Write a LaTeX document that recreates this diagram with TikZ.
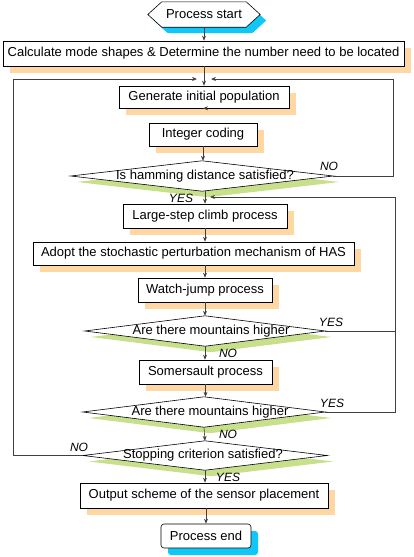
\documentclass[tikz,border=0pt]{standalone}
\usepackage{fontspec}
\setmainfont{Liberation Sans}
\usetikzlibrary{arrows.meta,shadows}
\definecolor{shorange}{HTML}{FFD7A3}
\definecolor{shcyan}{HTML}{10C8F8}
\definecolor{shgreen}{HTML}{C8E08C}
\definecolor{linegray}{HTML}{404040}
\tikzset{
  box/.style={draw=black, line width=0.6pt, fill=white, rectangle, inner sep=0pt,
    font=\fontsize{13}{15}\selectfont,
    general shadow={fill=shorange, shadow xshift=7pt, shadow yshift=-7pt}},
  endbox/.style={box, rounded corners=3pt,
    general shadow={fill=shcyan, shadow xshift=7pt, shadow yshift=-7pt}},
  holder/.style={rectangle, inner sep=0pt, font=\fontsize{13}{15}\selectfont},
  dshape/.style={draw=black, line width=0.6pt, fill=white},
  dshadow/.style={fill=shgreen},
  conn/.style={draw=linegray, line width=0.6pt},
  arr/.style={conn, -{Stealth[length=5pt,width=4pt]}},
  lbl/.style={font=\fontsize{12}{14}\selectfont\itshape, inner sep=0pt}
}
\begin{document}
\begin{tikzpicture}[x=1pt,y=-1pt]
\useasboundingbox (0,0) rectangle (413,557);
% start hexagon
\node[holder, minimum width=112pt, minimum height=25pt] (start) at (204,14.5) {};
\fill[shcyan] ([xshift=6pt,yshift=-6pt]start.west) -- ([xshift=20pt,yshift=-6pt]start.north west) -- ([xshift=-8pt,yshift=-6pt]start.north east) -- ([xshift=6pt,yshift=-6pt]start.east) -- ([xshift=-8pt,yshift=-6pt]start.south east) -- ([xshift=20pt,yshift=-6pt]start.south west) -- cycle;
\draw[dshape] (start.west) -- ([xshift=14pt]start.north west) -- ([xshift=-14pt]start.north east) -- (start.east) -- ([xshift=-14pt]start.south east) -- ([xshift=14pt]start.south west) -- cycle;
\node[holder] at (start) {Process start};

\node[box, minimum width=401pt, minimum height=25pt] (calc) at (203.5,53.5) {Calculate mode shapes \& Determine the number need to be located};
\node[box, minimum width=170pt, minimum height=22pt] (gen) at (204,97) {Generate initial population};
\node[box, minimum width=108pt, minimum height=23pt] (int) at (203,134.5) {Integer coding};

% diamonds
\node[holder, minimum width=262pt, minimum height=30pt] (ham) at (202,176) {};
\node[holder, minimum width=240pt, minimum height=30pt] (m1) at (205,331) {};
\node[holder, minimum width=242pt, minimum height=30pt] (m2) at (204,412) {};
\node[holder, minimum width=244pt, minimum height=29pt] (stop) at (205,455.5) {};
\foreach \d in {ham,m1,m2,stop}{
  \fill[dshadow] ([shift={(6pt,-6pt)}]\d.west) -- ([shift={(6pt,-6pt)}]\d.north) -- ([shift={(6pt,-6pt)}]\d.east) -- ([shift={(6pt,-6pt)}]\d.south) -- cycle;
  \draw[dshape] (\d.west) -- (\d.north) -- (\d.east) -- (\d.south) -- cycle;
}
\node[holder] at ([xshift=3pt]ham) {Is hamming distance satisfied?};
\node[holder] at ([xshift=6pt]m1) {Are there mountains higher};
\node[holder] at ([xshift=6pt]m2) {Are there mountains higher};
\node[holder] at ([xshift=-2pt]stop) {Stopping criterion satisfied?};

\node[box, minimum width=164pt, minimum height=24pt] (large) at (205,216) {Large-step climb process};
\node[box, minimum width=321pt, minimum height=23pt] (adopt) at (193.5,253.5) {Adopt the stochastic perturbation mechanism of HAS};
\node[box, minimum width=134pt, minimum height=24pt] (watch) at (205,290) {Watch-jump process};
\node[box, minimum width=133pt, minimum height=24pt] (som) at (205.5,372) {Somersault process};
\node[box, minimum width=248pt, minimum height=25pt] (out) at (204,495.5) {Output scheme of the sensor placement};
\node[endbox, minimum width=90pt, minimum height=24pt] (end) at (206,536) {Process end};

% junction coordinates
\coordinate (jl) at (197,79);
\coordinate (jr) at (211,79);
\coordinate (jt) at (210,197);
\coordinate (lx) at (13,79);
\coordinate (rx) at (393,79);
\coordinate (rx2) at (395,197);

% main flow
\draw[arr] (start.south) -- (start.south |- calc.north);
\draw[arr] (calc.south -| gen.north) -- (gen.north);
\draw[arr] (gen.south) -- (gen.south -| int.north) ;
\draw[arr] (int.south) -- (int.south |- ham.north);
\draw[arr] (ham.south -| large.north) -- (large.north);
\draw[arr] (large.south) -- (large.south |- adopt.north);
\draw[arr] (large.south |- adopt.south) -- (watch.north);
\draw[arr] (watch.south) -- (m1.north);
\draw[arr] (m1.south) -- (m1.south |- som.north);
\draw[arr] (som.south) -- (som.south |- m2.north);
\draw[arr] (m2.south) -- (stop.north);
\draw[arr] (stop.south) -- (stop.south |- out.north);
\draw[arr] (out.south -| end.north) -- (end.north);

% loops
\draw[arr] (stop.west) -- (stop.west -| lx) -- (lx) -- (jl);
\draw[arr] (ham.east) -- (ham.east -| rx) -- (rx) -- (jr);
\draw[conn] (m1.east) -- (m1.east -| rx2);
\draw[arr] (m2.east) -- (m2.east -| rx2) -- (rx2) -- (jt);

% labels
\node[lbl] at (329,166) {NO};
\node[lbl] at (181,198) {YES};
\node[lbl] at (331,322) {YES};
\node[lbl] at (228,353) {NO};
\node[lbl] at (332,403) {YES};
\node[lbl] at (228,434) {NO};
\node[lbl] at (79,447) {NO};
\node[lbl] at (228,477) {YES};
\end{tikzpicture}
\end{document}
